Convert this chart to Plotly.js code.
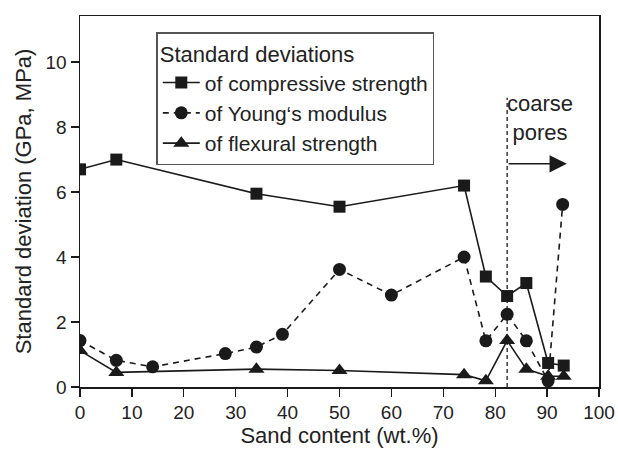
<!DOCTYPE html>
<html><head><meta charset="utf-8">
<script src="https://cdn.plot.ly/plotly-3.0.1.min.js"></script>
<style>body{margin:0;background:#fff}#chart{width:618px;height:454px}</style>
</head><body><div id="chart"></div>
<script>
// Data
var compX = [0, 7, 34, 50, 74, 78.2, 82.3, 86, 90.2, 93.2];
var compY = [6.7, 7.0, 5.95, 5.55, 6.2, 3.4, 2.8, 3.2, 0.74, 0.66];
var youngX = [0, 7, 14, 28, 34, 39, 50, 60, 74, 78.2, 82.3, 86, 90.2, 93];
var youngY = [1.43, 0.82, 0.62, 1.03, 1.23, 1.62, 3.62, 2.83, 4.0, 1.42, 2.24, 1.42, 0.19, 5.62];
var flexX = [0, 7, 34, 50, 74, 78.2, 82.3, 86, 90.2, 93.2];
var flexY = [1.12, 0.45, 0.55, 0.51, 0.38, 0.19, 1.43, 0.55, 0.33, 0.33];
var seriesNames = ['of compressive strength', 'of Young\u2018s modulus', 'of flexural strength'];
var legendTitle = 'Standard deviations';
var xTitle = 'Sand content (wt.%)';
var yTitle = 'Standard deviation (GPa, MPa)';
var boundaryX = 82.3;
var boundaryTop = 8.9;
var arrowY = 6.87;
var arrowEndX = 93.8;
var noteText = 'coarse<br>pores';

var ink = '#1a1a1a';
var font = 'Liberation Sans, Arial, sans-serif';
var traces = [
  {x: compX, y: compY, name: seriesNames[0], mode: 'lines+markers',
   line: {color: ink, width: 1.6}, marker: {symbol: 'square', size: 12, color: ink}},
  {x: youngX, y: youngY, name: seriesNames[1], mode: 'lines+markers',
   line: {color: ink, width: 1.6, dash: '6px,5px'}, marker: {symbol: 'circle', size: 13, color: ink}},
  {x: flexX, y: flexY, name: seriesNames[2], mode: 'lines+markers',
   line: {color: ink, width: 1.6}, marker: {symbol: 'triangle-up', size: 14, color: ink}}
];
var layout = {
  width: 618, height: 454,
  margin: {l: 80, r: 19, t: 16, b: 67},
  paper_bgcolor: '#fff', plot_bgcolor: '#fff',
  font: {family: font, size: 19, color: '#222'},
  showlegend: true,
  legend: {
    x: 0.147, y: 0.956, xanchor: 'left', yanchor: 'top',
    bgcolor: '#fff', bordercolor: '#555', borderwidth: 1.5,
    title: {text: legendTitle, font: {size: 22}},
    font: {size: 21}, itemwidth: 37, tracegroupgap: 0
  },
  xaxis: {
    range: [0, 100], tickvals: [0,10,20,30,40,50,60,70,80,90,100],
    ticks: 'outside', ticklen: 8, tickwidth: 1.3, tickcolor: ink,
    showline: true, linecolor: ink, linewidth: 1.5, mirror: true,
    showgrid: false, zeroline: false, tickfont: {size: 19},
    title: {text: xTitle, standoff: 4, font: {size: 22}}
  },
  yaxis: {
    range: [0, 11.42], tickvals: [0,2,4,6,8,10],
    ticks: 'outside', ticklen: 8, tickwidth: 1.3, tickcolor: ink,
    showline: true, linecolor: ink, linewidth: 1.5, mirror: true,
    showgrid: false, zeroline: false, tickfont: {size: 19},
    title: {text: yTitle, standoff: 8, font: {size: 22}}
  },
  shapes: [
    {type: 'line', xref: 'x', yref: 'y', x0: boundaryX, x1: boundaryX, y0: 0, y1: boundaryTop,
     line: {color: ink, width: 1.3, dash: '4px,3px'}}
  ],
  annotations: [
    {xref: 'x', yref: 'y', axref: 'x', ayref: 'y', x: arrowEndX, y: arrowY, ax: boundaryX, ay: arrowY,
     text: '', showarrow: true, arrowhead: 2, arrowsize: 2.3, arrowwidth: 1.5, arrowcolor: ink},
    {xref: 'x', yref: 'y', x: 88.6, y: 8.28, text: noteText, showarrow: false,
     font: {size: 22, color: '#222'}, align: 'center'}
  ]
};
Plotly.newPlot('chart', traces, layout, {displayModeBar: false, staticPlot: true});
</script></body></html>
